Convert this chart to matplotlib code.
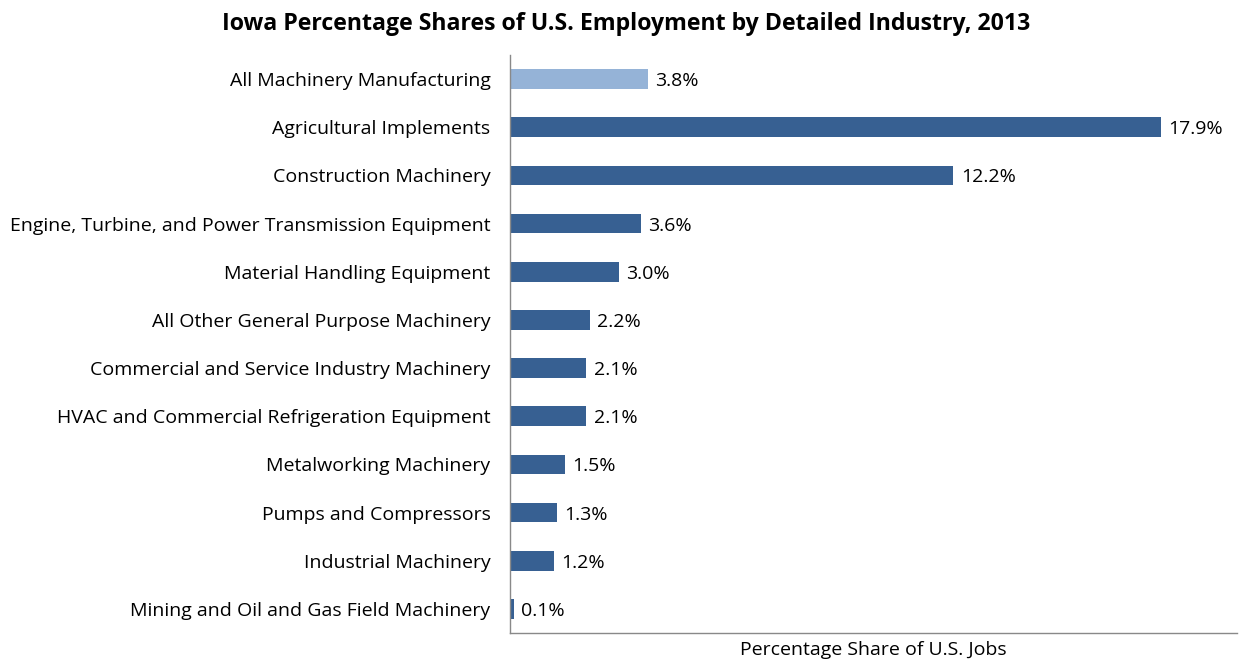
import matplotlib
matplotlib.use("Agg")
import matplotlib.pyplot as plt

categories = [
    "All Machinery Manufacturing",
    "Agricultural Implements",
    "Construction Machinery",
    "Engine, Turbine, and Power Transmission Equipment",
    "Material Handling Equipment",
    "All Other General Purpose Machinery",
    "Commercial and Service Industry Machinery",
    "HVAC and Commercial Refrigeration Equipment",
    "Metalworking Machinery",
    "Pumps and Compressors",
    "Industrial Machinery",
    "Mining and Oil and Gas Field Machinery",
]
values = [3.8, 17.9, 12.2, 3.6, 3.0, 2.2, 2.1, 2.1, 1.5, 1.3, 1.2, 0.1]
labels = ["3.8%", "17.9%", "12.2%", "3.6%", "3.0%", "2.2%", "2.1%", "2.1%", "1.5%", "1.3%", "1.2%", "0.1%"]

plt.rcParams['font.family'] = ['Open Sans', 'DejaVu Sans']

fig = plt.figure(figsize=(12.41, 6.6), dpi=100)
ax = fig.add_axes([510/1241, 27/660, 727/1241, 578/660])

colors = ["#95B3D7"] + ["#376092"] * (len(values) - 1)
ypos = list(range(len(values)))
ax.barh(ypos, values, height=0.41, color=colors)
ax.set_ylim(len(values) - 0.5, -0.5)
ax.set_xlim(0, 20)
ax.set_yticks(ypos)
ax.set_yticklabels(categories, fontsize=14.0)
ax.tick_params(axis='y', length=0, pad=14)
ax.set_xticks([])
for s in ['top', 'right']:
    ax.spines[s].set_visible(False)
for s in ['left', 'bottom']:
    ax.spines[s].set_color('#898989')
    ax.spines[s].set_linewidth(1)

for y, v, lab in zip(ypos, values, labels):
    ax.text(v + 0.2, y + 0.04, lab, va='center', ha='left', fontsize=14.0, color='#000000')

ax.set_xlabel("Percentage Share of U.S. Jobs", fontsize=14.0, labelpad=6)
fig.text(626/1241, 1 - 24/660, "Iowa Percentage Shares of U.S. Employment by Detailed Industry, 2013",
         ha='center', va='center', fontsize=16.7, fontweight='bold')

fig.savefig("out.png", dpi=100)
